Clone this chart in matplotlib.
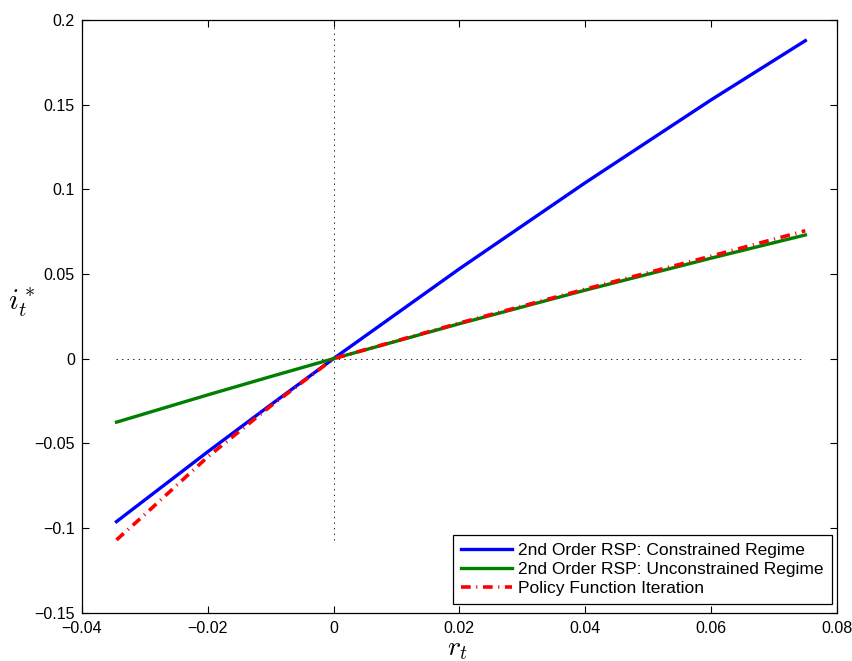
import matplotlib
matplotlib.use("Agg")
import matplotlib.pyplot as plt

# values
r_grid = [-0.0345, -0.02, -0.01, 0.0, 0.02, 0.04, 0.06, 0.075]
i_constrained = [-0.0962, -0.0550, -0.0273, 0.0, 0.0530, 0.1038, 0.1527, 0.1877]
i_unconstrained = [-0.0375, -0.0214, -0.0106, 0.0, 0.0206, 0.0404, 0.0593, 0.0730]

r_pfi = [-0.0345, -0.030, -0.020, -0.010, 0.0, 0.010, 0.020, 0.040, 0.060, 0.075]
i_pfi = [-0.107, -0.092, -0.058, -0.028, 0.0, 0.0105, 0.021, 0.041, 0.0605, 0.0755]

x_ticks = [-0.04, -0.02, 0, 0.02, 0.04, 0.06, 0.08]
x_ticklabels = ["\u22120.04", "\u22120.02", "0", "0.02", "0.04", "0.06", "0.08"]
y_ticks = [-0.15, -0.1, -0.05, 0, 0.05, 0.1, 0.15, 0.2]
y_ticklabels = ["\u22120.15", "\u22120.1", "\u22120.05", "0", "0.05", "0.1", "0.15", "0.2"]

plt.rcParams["font.family"] = ["Liberation Sans", "DejaVu Sans"]
plt.rcParams["mathtext.fontset"] = "cm"
plt.rcParams["lines.scale_dashes"] = False

fig = plt.figure(figsize=(8.53, 6.61), dpi=100)
ax = fig.add_axes([0.096, 0.073, 0.885, 0.897])

# zero reference lines
ax.plot([r_grid[0], r_grid[-1]], [0, 0], color="black", linestyle=(0, (1, 3)), linewidth=0.6)
ax.plot([0, 0], [min(i_pfi), 0.2], color="black", linestyle=(0, (1, 3)), linewidth=0.6)

ax.plot(r_grid, i_constrained, color="#0000ff", linewidth=2.4,
        label="2nd Order RSP: Constrained Regime")
ax.plot(r_grid, i_unconstrained, color="#008000", linewidth=2.4,
        label="2nd Order RSP: Unconstrained Regime")
ax.plot(r_pfi, i_pfi, color="#ff0000", linewidth=2.6, linestyle=(0, (7, 4, 0.8, 4)),
        label="Policy Function Iteration")

ax.set_xlim(-0.04, 0.08)
ax.set_ylim(-0.15, 0.2)
ax.set_xticks(x_ticks)
ax.set_xticklabels(x_ticklabels)
ax.set_yticks(y_ticks)
ax.set_yticklabels(y_ticklabels)
ax.tick_params(direction="in", top=True, right=True, labelsize=11.5, length=5, width=0.8)
ax.tick_params(axis="x", pad=6)
ax.tick_params(axis="y", pad=5)
for s in ax.spines.values():
    s.set_linewidth(0.9)

ax.set_xlabel(r"$r_t$", fontsize=20, va="top")
ax.xaxis.set_label_coords(0.497, -0.039)
ax.set_ylabel(r"$i_t^*$", fontsize=21, rotation=0, va="center")
ax.yaxis.set_label_coords(-0.079, 0.523)

leg = ax.legend(loc="lower right", bbox_to_anchor=(0.9934, 0.0152), fontsize=12.5,
                fancybox=False, framealpha=1, edgecolor="black", handlelength=2.9,
                borderpad=0.45, labelspacing=0.22, borderaxespad=0, handletextpad=0.4)
leg.get_frame().set_linewidth(0.9)

fig.savefig("out.png", dpi=100)
